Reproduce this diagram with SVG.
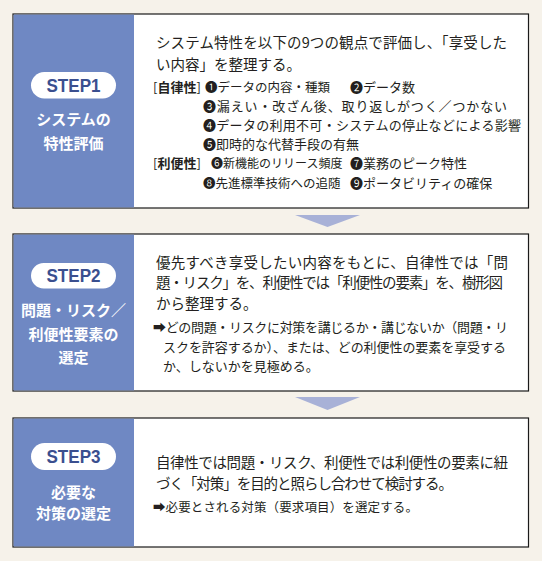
<svg xmlns="http://www.w3.org/2000/svg" width="542" height="561" viewBox="0 0 542 561">
<defs>
<style>
.bg{fill:#f6f2ea}
.box{fill:#ffffff;stroke:#1a1a1a;stroke-width:1.2}
.side{fill:#6f88c3}
.pill{fill:#ffffff}
.step{font-family:"Liberation Sans",Arial,sans-serif;font-weight:bold;font-size:19px;fill:#3a4f8f;text-anchor:middle}
.lab{font-family:"Noto Sans CJK JP",sans-serif;font-weight:bold;font-size:15px;fill:#ffffff;text-anchor:middle}
.t{font-family:"Noto Sans CJK JP",sans-serif;font-size:14.5px;fill:#231f20}
.s{font-family:"Noto Sans CJK JP",sans-serif;font-size:13px;fill:#231f20}
.b{font-weight:bold}
.arrow{fill:#a8b1d7}
</style>
</defs>
<rect class="bg" x="0" y="0" width="542" height="561"/>

<g id="connectors">
<polygon class="arrow" points="295,215 360,215 327.5,227"/>
<polygon class="arrow" points="295,397 360,397 327.5,410"/>
</g>

<g id="step1">
<rect class="box" x="13" y="14" width="515.5" height="194"/>
<rect class="side" x="13.6" y="14.6" width="120.4" height="192.8"/>
<rect class="pill" x="31" y="72" width="85" height="26.5" rx="13.25"/>
<text class="step" x="73.5" y="91.8" textLength="54" lengthAdjust="spacingAndGlyphs">STEP1</text>
<text class="lab" x="73.5" y="125">システムの</text>
<text class="lab" x="73.5" y="149">特性評価</text>
<text class="t" x="156" y="47.5" textLength="351" lengthAdjust="spacing">システム特性を以下の9つの観点で評価し、「享受した</text>
<text class="t" x="156" y="70">い内容」を整理する。</text>
<text class="s" x="153" y="92"><tspan>[</tspan><tspan class="b">自律性</tspan><tspan>]</tspan></text>
<text class="s" x="205" y="92" style="font-size:12.5px">❶データの内容・種類</text>
<text class="s" x="350" y="92">❷データ数</text>
<text class="s" x="203" y="111" textLength="304" lengthAdjust="spacing">❸漏えい・改ざん後、取り返しがつく／つかない</text>
<text class="s" x="203" y="130" textLength="318" lengthAdjust="spacing">❹データの利用不可・システムの停止などによる影響</text>
<text class="s" x="203" y="149">❺即時的な代替手段の有無</text>
<text class="s" x="153" y="168"><tspan>[</tspan><tspan class="b">利便性</tspan><tspan>]</tspan></text>
<text class="s" x="211" y="168" style="font-size:12px">❻新機能のリリース頻度</text>
<text class="s" x="350" y="168">❼業務のピーク特性</text>
<text class="s" x="203" y="187.5" style="font-size:12.5px">❽先進標準技術への追随</text>
<text class="s" x="350" y="187.5">❾ポータビリティの確保</text>
</g>

<g id="step2">
<rect class="box" x="13" y="234" width="515.5" height="157"/>
<rect class="side" x="13.6" y="234.6" width="120.4" height="155.8"/>
<rect class="pill" x="31" y="263" width="85" height="25.5" rx="12.75"/>
<text class="step" x="73.5" y="282.3" textLength="54" lengthAdjust="spacingAndGlyphs">STEP2</text>
<text class="lab" x="73.5" y="316">問題・リスク／</text>
<text class="lab" x="73.5" y="339.5">利便性要素の</text>
<text class="lab" x="73.5" y="363">選定</text>
<text class="t" x="156" y="267.5" textLength="352" lengthAdjust="spacing">優先すべき享受したい内容をもとに、自律性では「問</text>
<text class="t" x="156" y="287.5" textLength="347" lengthAdjust="spacing">題・リスク」を、利便性では「利便性の要素」を、樹形図</text>
<text class="t" x="156" y="309">から整理する。</text>
<text class="s" x="153" y="331.5" textLength="355" lengthAdjust="spacing">➡どの問題・リスクに対策を講じるか・講じないか（問題・リ</text>
<text class="s" x="163" y="351.5" textLength="343" lengthAdjust="spacing">スクを許容するか）、または、どの利便性の要素を享受する</text>
<text class="s" x="163" y="371">か、しないかを見極める。</text>
</g>

<g id="step3">
<rect class="box" x="13" y="418" width="515.5" height="129"/>
<rect class="side" x="13.6" y="418.6" width="120.4" height="127.8"/>
<rect class="pill" x="31" y="443" width="85" height="27" rx="13.5"/>
<text class="step" x="73.5" y="463" textLength="54" lengthAdjust="spacingAndGlyphs">STEP3</text>
<text class="lab" x="73.5" y="497.5">必要な</text>
<text class="lab" x="73.5" y="519">対策の選定</text>
<text class="t" x="156" y="467.5" textLength="352" lengthAdjust="spacing">自律性では問題・リスク、利便性では利便性の要素に紐</text>
<text class="t" x="156" y="488.5" textLength="297" lengthAdjust="spacing">づく「対策」を目的と照らし合わせて検討する。</text>
<text class="s" x="153" y="511.5" style="font-size:12.5px" textLength="265" lengthAdjust="spacing">➡必要とされる対策（要求項目）を選定する。</text>
</g>
</svg>
